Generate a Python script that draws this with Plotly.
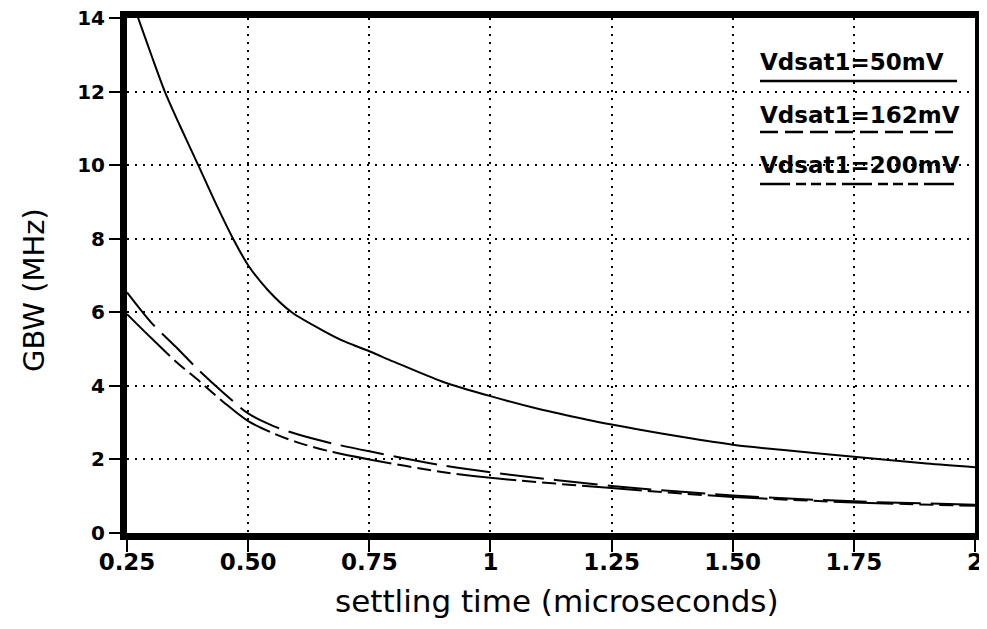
import plotly.graph_objects as go

# ---- data ----
t_50 = [0.25, 0.273, 0.30, 0.328, 0.36, 0.397, 0.43, 0.469, 0.50, 0.541, 0.59, 0.659,
        0.70, 0.75, 0.80, 0.90, 1.00, 1.10, 1.20, 1.25, 1.30, 1.40, 1.50, 1.60, 1.75, 1.90, 2.00]
gbw_50 = [14.8, 14.0, 13.0, 12.0, 11.05, 10.0, 9.05, 8.0, 7.28, 6.6, 6.0, 5.47,
          5.2, 4.94, 4.66, 4.12, 3.72, 3.37, 3.08, 2.95, 2.83, 2.6, 2.4, 2.26, 2.07, 1.89, 1.79]

t_162 = [0.25, 0.30, 0.35, 0.40, 0.45, 0.50, 0.55, 0.60, 0.675, 0.75, 0.90, 1.00, 1.25, 1.50, 1.75, 2.00]
gbw_162 = [6.54, 5.72, 5.07, 4.4, 3.8, 3.25, 2.92, 2.69, 2.43, 2.22, 1.84, 1.65, 1.28, 1.02, 0.86, 0.77]

t_200 = [0.25, 0.30, 0.35, 0.40, 0.45, 0.50, 0.55, 0.60, 0.675, 0.75, 0.90, 1.00, 1.25, 1.50, 1.75, 2.00]
gbw_200 = [5.95, 5.3, 4.67, 4.12, 3.55, 3.04, 2.72, 2.47, 2.2, 2.0, 1.66, 1.5, 1.22, 0.98, 0.83, 0.74]

x_tickvals = [0.25, 0.5, 0.75, 1.0, 1.25, 1.5, 1.75, 2.0]
x_ticktext = ["0.25", "0.50", "0.75", "1", "1.25", "1.50", "1.75", "2"]
y_tickvals = [0, 2, 4, 6, 8, 10, 12, 14]

series_names = ["Vdsat1=50mV", "Vdsat1=162mV", "Vdsat1=200mV"]
x_title = "settling time (microseconds)"
y_title = "GBW (MHz)"

FONT = "DejaVu Sans"
OFF = 8                      # page body margin of the generated html
PL, PT, PR, PB = 127, 18, 975, 533   # plot box in window pixels
W, H = 987 - OFF, 629 - OFF

dash_162 = "44px,10px"
dash_200 = "60px,6px,14px,6px,14px,6px,14px,6px"

fig = go.Figure()
fig.add_trace(go.Scatter(x=t_50, y=gbw_50, mode="lines", name=series_names[0],
                         line=dict(color="black", width=2, shape="spline", smoothing=0.8)))
fig.add_trace(go.Scatter(x=t_162, y=gbw_162, mode="lines", name=series_names[1],
                         line=dict(color="black", width=2, dash=dash_162, shape="spline", smoothing=0.8)))
fig.add_trace(go.Scatter(x=t_200, y=gbw_200, mode="lines", name=series_names[2],
                         line=dict(color="black", width=2, dash=dash_200, shape="spline", smoothing=0.8)))


def px(xp):
    return (xp - PL) / (PR - PL)


def py(yp):
    return (PB - yp) / (PB - PT)


# legend drawn as underlined texts
legend_rows = [(62, 81, "solid"), (115, 132, "18px,7px"),
               (165, 184, "30px,6px,10px,5px,10px,5px,10px,6px")]
shapes = []
annotations = []
for (ty, ly, dsh), name in zip(legend_rows, series_names):
    annotations.append(dict(x=px(758), y=py(ty), xref="paper", yref="paper", text=name,
                            showarrow=False, xanchor="left", yanchor="middle",
                            font=dict(family=FONT, size=23, color="black", weight="bold")))
    shapes.append(dict(type="line", xref="paper", yref="paper", x0=px(760), x1=px(957),
                       y0=py(ly), y1=py(ly), line=dict(color="black", width=2.5, dash=dsh)))

# axis titles
annotations.append(dict(x=px(557), y=py(601), xref="paper", yref="paper", text=x_title,
                        showarrow=False, xanchor="center", yanchor="middle",
                        font=dict(family=FONT, size=31, color="black")))
annotations.append(dict(x=px(34), y=py(290), xref="paper", yref="paper", text=y_title,
                        showarrow=False, xanchor="center", yanchor="middle", textangle=-90,
                        font=dict(family=FONT, size=29, color="black")))

fig.update_layout(
    width=W, height=H,
    margin=dict(l=PL - OFF, r=W - (PR - OFF), t=PT - OFF, b=H - (PB - OFF), autoexpand=False),
    paper_bgcolor="white", plot_bgcolor="white",
    showlegend=False,
    shapes=shapes, annotations=annotations,
    font=dict(family=FONT, color="black"),
)
fig.update_xaxes(
    range=[0.25, 2.0], tickvals=x_tickvals, ticktext=x_ticktext,
    automargin=False, ticklabeloverflow="allow",
    showline=True, linecolor="black", linewidth=7, mirror=True,
    ticks="outside", ticklen=12, tickwidth=2, tickcolor="black",
    ticklabelstandoff=-10,
    showgrid=True, gridcolor="black", gridwidth=2, griddash="2px,6px",
    zeroline=False,
    tickfont=dict(family=FONT, size=23, color="black", weight="bold"),
)
fig.update_yaxes(
    range=[0, 14], tickvals=y_tickvals,
    automargin=False, ticklabeloverflow="allow",
    showline=True, linecolor="black", linewidth=7, mirror=True,
    ticks="outside", ticklen=11, tickwidth=2, tickcolor="black",
    ticklabelstandoff=0,
    showgrid=True, gridcolor="black", gridwidth=2, griddash="2px,6px",
    zeroline=False,
    tickfont=dict(family=FONT, size=20, color="black", weight="bold"),
)

fig.write_html("out.html")
